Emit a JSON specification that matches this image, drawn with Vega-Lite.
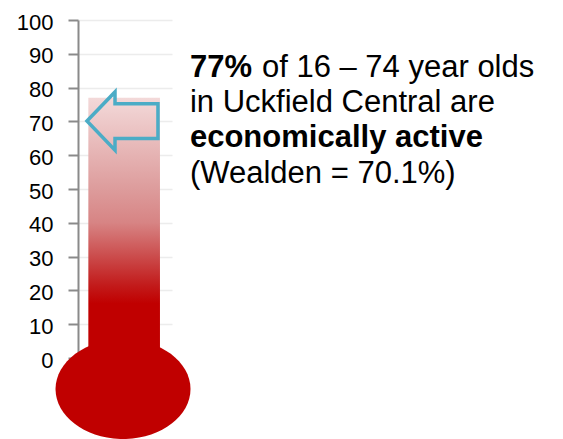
{
  "$schema": "https://vega.github.io/schema/vega-lite/v6.json",
  "autosize": {"type": "none"},
  "padding": {"left": 78, "top": 20, "right": 391, "bottom": 81},
  "width": 94,
  "height": 338,
  "background": "white",
  "config": {
    "view": {"stroke": null},
    "axisY": {
      "grid": true, "gridColor": "#ececec", "gridWidth": 1.5,
      "domainColor": "#8a8a8a", "domainWidth": 2,
      "tickColor": "#8a8a8a", "tickWidth": 2, "tickSize": 10,
      "labelFont": "Liberation Sans", "labelFontSize": 22, "labelColor": "#000000",
      "labelPadding": 15, "labelOffset": 2, "labelOverlap": false, "labelFlush": false
    },
    "text": {"font": "Liberation Sans", "fontSize": 31, "align": "left", "baseline": "alphabetic", "color": "#000000"}
  },
  "data": {"values": [{"area": "Uckfield Central", "active": 77, "wealden": 70.1}]},
  "encoding": {
    "y": {
      "type": "quantitative", "title": null,
      "scale": {"domain": [0, 100], "nice": false},
      "axis": {
        "values": [0, 10, 20, 30, 40, 50, 60, 70, 80, 90, 100], "title": null,
        "labelFont": "Liberation Sans", "labelFontSize": 22, "labelPadding": 15, "tickSize": 10
      }
    }
  },
  "layer": [
    {
      "mark": {
        "type": "rect",
        "fill": {
          "gradient": "linear", "x1": 0, "y1": 0, "x2": 0, "y2": 1,
          "stops": [
            {"offset": 0, "color": "#f3d9d9"},
            {"offset": 0.35, "color": "#dd9c9c"},
            {"offset": 0.48, "color": "#d78484"},
            {"offset": 0.6, "color": "#cc5050"},
            {"offset": 0.72, "color": "#c21b1b"},
            {"offset": 0.79, "color": "#c00000"},
            {"offset": 1, "color": "#c00000"}
          ]
        }
      },
      "encoding": {
        "x": {"datum": 1.1, "type": "quantitative", "scale": {"domain": [0, 10]}, "axis": null},
        "x2": {"datum": 8.72},
        "y": {"field": "active", "type": "quantitative"},
        "y2": {"datum": 0}
      }
    },
    {
      "mark": {
        "type": "point",
        "shape": "M-1,0 C-1,-0.409 -0.552,-0.74 0,-0.74 C0.552,-0.74 1,-0.409 1,0 C1,0.409 0.552,0.74 0,0.74 C-0.552,0.74 -1,0.409 -1,0 Z",
        "size": 18225, "filled": true, "fill": "#c00000", "strokeWidth": 0, "opacity": 1
      },
      "encoding": {
        "x": {"datum": 4.79, "type": "quantitative"},
        "y": {"datum": -9.2, "type": "quantitative"}
      }
    },
    {
      "mark": {
        "type": "point",
        "shape": "M-1,0 L-0.21,-0.82 L-0.21,-0.49 L1,-0.49 L1,0.49 L-0.21,0.49 L-0.21,0.82 Z",
        "size": 5041, "filled": false, "stroke": "#4bacc6", "strokeWidth": 3.5, "opacity": 1
      },
      "encoding": {
        "x": {"datum": 4.73, "type": "quantitative"},
        "y": {"field": "wealden", "type": "quantitative"}
      }
    },
    {
      "mark": {"type": "text", "text": "77%", "fontWeight": "bold"},
      "encoding": {
        "x": {"datum": 11.91, "type": "quantitative"},
        "y": {"datum": 83.14, "type": "quantitative"}
      }
    },
    {
      "mark": {"type": "text", "text": "of 16 – 74 year olds"},
      "encoding": {
        "x": {"datum": 19.57, "type": "quantitative"},
        "y": {"datum": 83.14, "type": "quantitative"}
      }
    },
    {
      "mark": {"type": "text", "text": "in Uckfield Central are"},
      "encoding": {
        "x": {"datum": 11.91, "type": "quantitative"},
        "y": {"datum": 72.7, "type": "quantitative"}
      }
    },
    {
      "mark": {"type": "text", "text": "economically active", "fontWeight": "bold"},
      "encoding": {
        "x": {"datum": 11.91, "type": "quantitative"},
        "y": {"datum": 62.3, "type": "quantitative"}
      }
    },
    {
      "mark": {"type": "text", "text": "(Wealden = 70.1%)"},
      "encoding": {
        "x": {"datum": 11.91, "type": "quantitative"},
        "y": {"datum": 51.85, "type": "quantitative"}
      }
    }
  ]
}
